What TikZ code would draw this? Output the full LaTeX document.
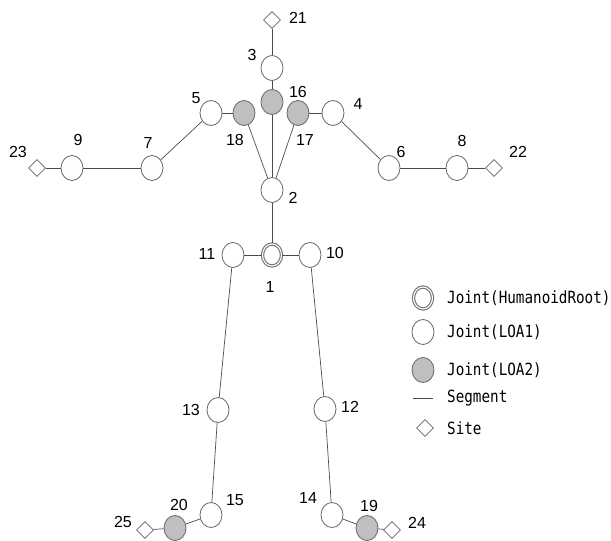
\documentclass[tikz,border=0pt]{standalone}
\usepackage{fontspec}
\setmainfont{Liberation Sans}
\newfontfamily\legendfont[FakeStretch=0.85]{DejaVu Sans Mono}
\usetikzlibrary{shapes.geometric}

\begin{document}
\begin{tikzpicture}[x=1pt, y=-1pt,
    every node/.style={font=\fontsize{16}{16}\selectfont},
    joint/.style={ellipse, draw=black!60, fill=white, line width=0.8pt, minimum width=22pt, minimum height=25pt, inner sep=0pt},
    loatwo/.style={joint, fill=black!25},
    rootjoint/.style={joint, draw=black!55, line width=1.1pt, double=white, double distance=1.1pt, minimum width=19pt, minimum height=22pt},
    site/.style={diamond, draw=black!60, fill=white, line width=0.8pt, minimum size=17pt, inner sep=0pt},
    seg/.style={draw=black!70, line width=0.7pt},
    lbl/.style={inner sep=0pt},
    legtext/.style={anchor=west, inner sep=0pt, font=\legendfont\fontsize{16.8}{17}\selectfont}]
    \useasboundingbox (0,0) rectangle (611,541);
    % joints (LOA1)
    \foreach \n/\x/\y in {3/272/68, 5/211/113, 4/333/113, 2/272/190, 7/152/168, 9/72/168,
                          6/389/168, 8/457/168, 11/233/255, 10/310/255, 13/218/410,
                          12/325/409, 15/211/515, 14/332/515}
        \node[joint] (n\n) at (\x,\y) {};
    % joints (LOA2)
    \foreach \n/\x/\y in {16/272/102, 18/244/113, 17/298/113, 20/175/528, 19/367/528}
        \node[loatwo] (n\n) at (\x,\y) {};
    \node[rootjoint] (n1) at (272,255) {};
    % sites
    \foreach \n/\x/\y in {21/272/20, 23/37/168, 22/494/168, 25/145/530, 24/392/530}
        \node[site] (n\n) at (\x,\y) {};
    % segments
    \foreach \a/\b in {21/3, 3/16, 16/2, 18/2, 17/2, 5/18, 17/4, 5/7, 7/9, 9/23, 4/6, 6/8, 8/22,
                       2/1, 11/1, 1/10, 11/13, 13/15, 15/20, 20/25, 10/12, 12/14, 14/19, 19/24}
        \draw[seg] (n\a) -- (n\b);
    % numbers
    \foreach \t/\x/\y in {21/298/18, 3/252/55, 16/298/92, 18/235/140, 17/305/140, 5/196/98,
                          4/358/104, 2/293/198, 23/18/152, 9/78/140, 7/148/143, 6/401/152,
                          8/462/141, 22/518/152, 11/207/254, 1/270/287, 10/335/253,
                          13/191/410, 12/350/407, 15/235/500, 20/179/505, 25/123/522,
                          14/308/498, 19/369/506, 24/417/523}
        \node[lbl] (lab\t) at (\x,\y) {\t};
    % legend
    \node[rootjoint] (kroot) at (423,298) {};
    \node[joint] (kone) at (423,332) {};
    \node[loatwo] (ktwo) at (423,370) {};
    \coordinate (kseg1) at (413,398);
    \coordinate (kseg2) at (433,398);
    \draw[seg] (kseg1) -- (kseg2);
    \node[site] (ksite) at (425,428) {};
    \node[legtext] (troot) at (447,298) {Joint(HumanoidRoot)};
    \node[legtext] (tone) at (447,332) {Joint(LOA1)};
    \node[legtext] (ttwo) at (447,370) {Joint(LOA2)};
    \node[legtext] (tseg) at (447,398) {Segment};
    \node[legtext] (tsite) at (447,428) {Site};
\end{tikzpicture}
\end{document}
